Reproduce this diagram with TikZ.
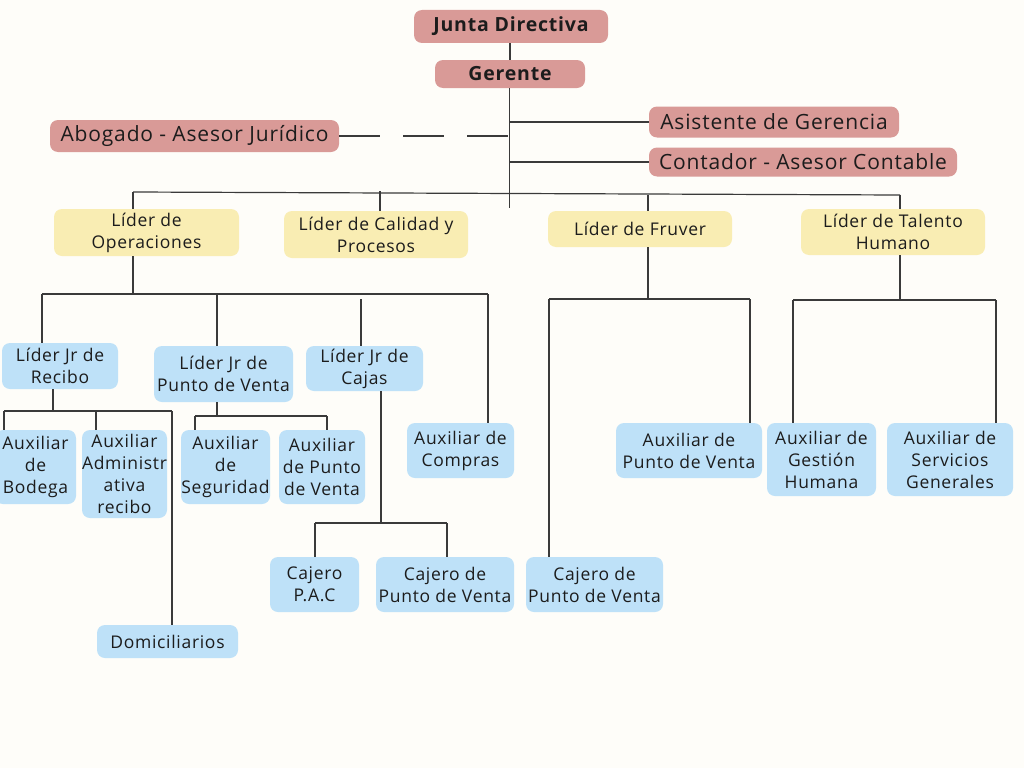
\documentclass[tikz,border=0pt]{standalone}
\usepackage{fontspec}
\setmainfont{Open Sans}[LetterSpace=4]
\usetikzlibrary{calc}
\definecolor{bgc}{HTML}{FEFDF9}
\definecolor{pinkc}{HTML}{D99A97}
\definecolor{yelc}{HTML}{F9EDB3}
\definecolor{bluec}{HTML}{BEE1F8}
\definecolor{linec}{HTML}{3A3A3A}
\definecolor{txtc}{HTML}{1C1C1C}
\tikzset{
  box/.style={rounded corners=8pt, inner sep=0pt, align=center, text=txtc},
  pinkbox/.style={box, fill=pinkc, font=\fontsize{21}{25}\selectfont},
  bosspink/.style={box, fill=pinkc, font=\fontsize{19.5}{24}\selectfont\bfseries},
  yelbox/.style={box, fill=yelc, font=\fontsize{17.5}{22}\selectfont},
  bluebox/.style={box, fill=bluec, font=\fontsize{17.5}{22}\selectfont},
  conn/.style={draw=linec, line width=1.2pt},
  dashconn/.style={conn, dash pattern=on 41pt off 23pt},
}
\begin{document}
\begin{tikzpicture}[x=1pt,y=-1pt]
\useasboundingbox (0,0) rectangle (1024,768);
\fill[bgc] (0,0) rectangle (1024,768);
\clip (0,0) rectangle (1024,768);
% top level
\node[bosspink, minimum width=194, minimum height=33] (junta) at (511,26.5) {Junta Directiva};
\node[bosspink, minimum width=150, minimum height=28] (ger) at (510,74) {Gerente};
\node[pinkbox, minimum width=289, minimum height=32] (abog) at (194.5,136) {Abogado - Asesor Jurídico};
\node[pinkbox, minimum width=250, minimum height=31] (asis) at (774,122) {Asistente de Gerencia};
\node[pinkbox, minimum width=308, minimum height=29] (cont) at (803,162) {Contador - Asesor Contable};
% leaders
\node[yelbox, minimum width=185, minimum height=47] (ops) at (146.5,232.5) {Líder de\\Operaciones};
\node[yelbox, minimum width=184, minimum height=47] (cal) at (376,234.5) {Líder de Calidad y\\Procesos};
\node[yelbox, minimum width=184, minimum height=36] (fru) at (640,229) {Líder de Fruver};
\node[yelbox, minimum width=184, minimum height=46] (tal) at (893,232) {Líder de Talento\\Humano};
% junior leaders
\node[bluebox, minimum width=116, minimum height=46] (rec) at (60,366) {Líder Jr de\\Recibo};
\node[bluebox, minimum width=139, minimum height=56] (pv) at (223.5,374) {Líder Jr de\\Punto de Venta};
\node[bluebox, minimum width=117, minimum height=45] (caj) at (364.5,368.5) {Líder Jr de\\Cajas};
\node[bluebox, minimum width=107, minimum height=55] (comp) at (460.5,450.5) {Auxiliar de\\Compras};
% auxiliaries
\node[bluebox, minimum width=81, minimum height=74] (bod) at (35.5,467) {Auxiliar\\de\\Bodega};
\node[bluebox, minimum width=85, minimum height=88] (adm) at (124.5,474) {Auxiliar\\Administr\\ativa\\recibo};
\node[bluebox, minimum width=89, minimum height=74] (seg) at (225.5,467) {Auxiliar\\de\\Seguridad};
\node[bluebox, minimum width=86, minimum height=74] (apv) at (322,467) {Auxiliar\\de Punto\\de Venta};
\node[bluebox, minimum width=89, minimum height=55] (pac) at (314.5,584.5) {Cajero\\P.A.C};
\node[bluebox, minimum width=138, minimum height=55] (cpv) at (445,584.5) {Cajero de\\Punto de Venta};
\node[bluebox, minimum width=141, minimum height=33] (dom) at (167.5,641.5) {Domiciliarios};
\node[bluebox, minimum width=137, minimum height=55] (cpv2) at (594.5,584.5) {Cajero de\\Punto de Venta};
\node[bluebox, minimum width=146, minimum height=55] (apv2) at (689,450.5) {Auxiliar de\\Punto de Venta};
\node[bluebox, minimum width=109, minimum height=73] (gh) at (821.5,459.5) {Auxiliar de\\Gestión\\Humana};
\node[bluebox, minimum width=126, minimum height=73] (sg) at (950,459.5) {Auxiliar de\\Servicios\\Generales};
% top connectors
\draw[conn] (junta.south -| ger.south) -- (ger.north);
\coordinate (gend) at (509.5,208);
\coordinate (gtop) at (509.5,88);
\draw[conn] (gtop) -- (gend);
\draw[conn] (asis.west) -- (asis.west -| gend);
\draw[conn] (cont.west) -- (cont.west -| gend);
\draw[dashconn] (abog.east) -- (abog.east -| gend);
% bus to leaders
\coordinate (busL) at (133,192);
\coordinate (busR) at (900,195);
\draw[conn] (busL) -- (busR);
\draw[conn] (busL) -- (busL |- ops.north);
\coordinate (calT) at ($(cal.north)+(4,0)$);
\draw[conn] (calT) -- ($(calT)+(0,-19.5)$);
\coordinate (fruT) at ($(fru.north)+(8,0)$);
\draw[conn] (fruT) -- ($(fruT)+(0,-16)$);
\draw[conn] (busR) -- (busR |- tal.north);
% operations subtree
\coordinate (opsB) at ($(ops.south)+(-13.5,0)$);
\coordinate (oL) at (42,294);
\coordinate (oR) at (488,294);
\draw[conn] (opsB) -- (opsB |- oL);
\draw[conn] (oL) -- (oR);
\draw[conn] (oL) -- (oL |- rec.north);
\draw[conn] (oR) -- (oR |- comp.north);
\coordinate (pvT) at (217,294);
\draw[conn] (pvT) -- (pvT |- pv.north);
\coordinate (cajT) at (361,299);
\draw[conn] (cajT) -- (cajT |- caj.north);
% recibo subtree
\coordinate (recB) at (53,389);
\coordinate (rL) at (4,411);
\coordinate (rR) at (172,411);
\draw[conn] (recB) -- (recB |- rL);
\draw[conn] (rL) -- (rR);
\draw[conn] (rL) -- (rL |- bod.north);
\coordinate (admT) at (96,411);
\draw[conn] (admT) -- (admT |- adm.north);
\draw[conn] (rR) -- (rR |- dom.north);
% punto de venta subtree
\coordinate (pvB) at (217,402);
\coordinate (pL) at (195,416);
\coordinate (pR) at (327,416);
\draw[conn] (pvB) -- (pvB |- pL);
\draw[conn] (pL) -- (pR);
\draw[conn] (pL) -- (pL |- seg.north);
\draw[conn] (pR) -- (pR |- apv.north);
% cajas subtree
\coordinate (cajB) at (381,391);
\coordinate (cL) at (315,523);
\coordinate (cR) at (447,523);
\draw[conn] (cajB) -- (cajB |- cL);
\draw[conn] (cL) -- (cR);
\draw[conn] (cL) -- (cL |- pac.north);
\draw[conn] (cR) -- (cR |- cpv.north);
% fruver subtree
\coordinate (fruB) at ($(fru.south)+(8,0)$);
\coordinate (fL) at (549,299);
\coordinate (fR) at (750,299);
\draw[conn] (fruB) -- (fruB |- fL);
\draw[conn] (fL) -- (fR);
\draw[conn] (fL) -- (fL |- cpv2.north);
\draw[conn] (fR) -- (fR |- apv2.north);
% talento subtree
\coordinate (talB) at ($(tal.south)+(7,0)$);
\coordinate (tL) at (793,300);
\coordinate (tR) at (996,300);
\draw[conn] (talB) -- (talB |- tL);
\draw[conn] (tL) -- (tR);
\draw[conn] (tL) -- (tL |- gh.north);
\draw[conn] (tR) -- (tR |- sg.north);
\end{tikzpicture}
\end{document}
